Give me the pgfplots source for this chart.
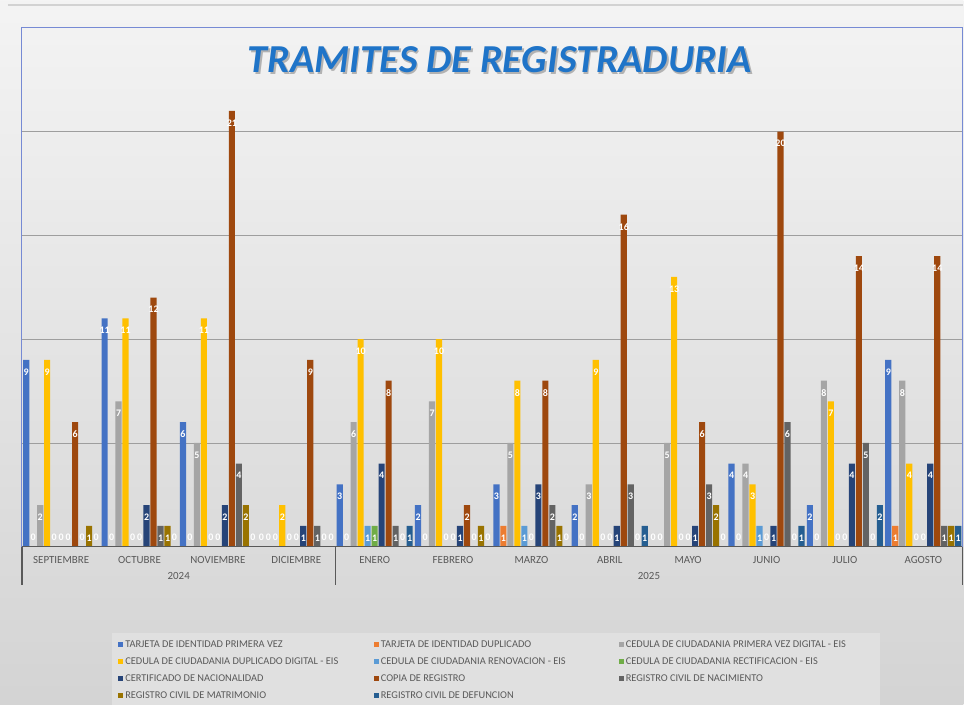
\documentclass[border=0pt]{standalone}
\usepackage{pgfplots}
\pgfplotsset{compat=1.18}
\usepackage{pgfplotstable}
\usepackage{graphicx}
\usepackage{fontspec}
\setmainfont{Carlito}

\definecolor{c1}{HTML}{4472C4}
\definecolor{c2}{HTML}{ED7D31}
\definecolor{c3}{HTML}{A5A5A5}
\definecolor{c4}{HTML}{FFC000}
\definecolor{c5}{HTML}{5B9BD5}
\definecolor{c6}{HTML}{70AD47}
\definecolor{c7}{HTML}{264478}
\definecolor{c8}{HTML}{9E480E}
\definecolor{c9}{HTML}{636363}
\definecolor{c10}{HTML}{997300}
\definecolor{c11}{HTML}{255E91}
\definecolor{txtgray}{HTML}{595959}
\definecolor{framebl}{RGB}{118,138,212}
\definecolor{titleblue}{HTML}{1F74C8}

% months: sep oct nov dic | ene feb mar abr may jun jul ago
\pgfplotstableread{
idx s1 s2 s3 s4 s5 s6 s7 s8 s9 s10 s11
0   9  0  2  9  0  0  0  6  0  1   0
1   11 0  7  11 0  0  2  12 1  1   0
2   6  0  5  11 0  0  2  21 4  2   0
3   0  0  0  2  0  0  1  9  1  0   0
4   3  0  6  10 1  1  4  8  1  0   1
5   2  0  7  10 0  0  1  2  0  1   0
6   3  1  5  8  1  0  3  8  2  1   0
7   2  0  3  9  0  0  1  16 3  0   1
8   0  0  5  13 0  0  1  6  3  2   0
9   4  0  4  3  1  0  1  20 6  0   1
10  2  0  8  7  0  0  4  14 5  0   2
11  9  1  8  4  0  0  4  14 1  1   1
}\datos

\newcommand{\titletext}{\resizebox{378pt}{19.5pt}{\bfseries\itshape TRAMITES DE REGISTRADURIA}}

\begin{document}
\begin{tikzpicture}[x=1pt,y=1pt]
% pixel (px,py) -> ((px-22)*0.75, (547-py)*0.75)
\shade[top color=gray!9, bottom color=gray!34] (-16.5,-118.5) rectangle (706.5,410.25);
\draw[gray!35, line width=0.8pt] (-10.5,406.5) -- (706.5,406.5);
\fill[gray!24] (67.5,-64.5) rectangle (643.5,-118.5);

\begin{axis}[
  at={(0,0)}, anchor=south west,
  scale only axis, width=705.75pt, height=389.25pt,
  ybar=0.65pt, bar width=4.6pt,
  xmin=-0.5, xmax=11.5, ymin=0, ymax=25,
  xtick={0,...,11},
  xticklabels={SEPTIEMBRE,OCTUBRE,NOVIEMBRE,DICIEMBRE,ENERO,FEBRERO,MARZO,ABRIL,MAYO,JUNIO,JULIO,AGOSTO},
  ytick={5,10,15,20}, yticklabels={},
  ymajorgrids, grid style={black!38, line width=0.6pt},
  major tick length=0pt,
  axis line style={draw=none},
  xticklabel style={font=\fontsize{8.2}{9}\selectfont, text=txtgray, anchor=base, yshift=-12.75pt},
  clip=false,
  /pgf/number format/assume math mode=true,
  nodes near coords,
  visualization depends on={y \as \rawy},
  every node near coord/.append style={font=\fontsize{7.5}{8}\selectfont\bfseries, text=white,
    anchor=center, inner sep=0pt, yshift={ifthenelse(\rawy>0.5,-9,6.75)}},
  cycle list={
    {fill=c1,draw=none},{fill=c2,draw=none},{fill=c3,draw=none},{fill=c4,draw=none},
    {fill=c5,draw=none},{fill=c6,draw=none},{fill=c7,draw=none},{fill=c8,draw=none},
    {fill=c9,draw=none},{fill=c10,draw=none},{fill=c11,draw=none}},
  legend image code/.code={\fill[#1] (0pt,-1.9pt) rectangle (3.8pt,1.9pt);},
  legend columns=3,
  legend cell align=left,
  legend style={at={(0.102,-0.1753)}, anchor=north west, draw=none, fill=none,
    inner sep=0pt, row sep=2.25pt,
    font=\fontsize{7.8}{9}\selectfont, text=txtgray,
    nodes={inner sep=1.5pt, text height=6pt, text depth=1.5pt}},
]
\addplot table[x=idx,y=s1]{\datos};
\addlegendentry{\makebox[185pt][l]{TARJETA DE IDENTIDAD PRIMERA VEZ}}
\addplot table[x=idx,y=s2]{\datos};
\addlegendentry{\makebox[177pt][l]{TARJETA DE IDENTIDAD DUPLICADO}}
\addplot table[x=idx,y=s3]{\datos};
\addlegendentry{CEDULA DE CIUDADANIA PRIMERA VEZ DIGITAL - EIS}
\addplot table[x=idx,y=s4]{\datos};
\addlegendentry{CEDULA DE CIUDADANIA DUPLICADO DIGITAL - EIS}
\addplot table[x=idx,y=s5]{\datos};
\addlegendentry{CEDULA DE CIUDADANIA RENOVACION - EIS}
\addplot table[x=idx,y=s6]{\datos};
\addlegendentry{CEDULA DE CIUDADANIA RECTIFICACION - EIS}
\addplot table[x=idx,y=s7]{\datos};
\addlegendentry{CERTIFICADO DE NACIONALIDAD}
\addplot table[x=idx,y=s8]{\datos};
\addlegendentry{COPIA DE REGISTRO}
\addplot table[x=idx,y=s9]{\datos};
\addlegendentry{REGISTRO CIVIL DE NACIMIENTO}
\addplot table[x=idx,y=s10]{\datos};
\addlegendentry{REGISTRO CIVIL DE MATRIMONIO}
\addplot table[x=idx,y=s11]{\datos};
\addlegendentry{REGISTRO CIVIL DE DEFUNCION}

\draw[framebl, line width=0.75pt] (rel axis cs:0,0) -- (rel axis cs:0,1) -- (rel axis cs:1,1) -- (rel axis cs:1,0);
\draw[txtgray, line width=1pt] (rel axis cs:0,0) -- (rel axis cs:1,0);
\draw[txtgray, line width=1pt] (axis cs:-0.5,0) -- ++(0pt,-28.5pt);
\draw[txtgray, line width=1pt] (axis cs:3.5,0) -- ++(0pt,-28.5pt);
\draw[txtgray, line width=1pt] (axis cs:11.5,0) -- ++(0pt,-28.5pt);
\node[anchor=base, yshift=-24.75pt, font=\fontsize{8.2}{9}\selectfont, text=txtgray] at (axis cs:1.5,0) {2024};
\node[anchor=base, yshift=-24.75pt, font=\fontsize{8.2}{9}\selectfont, text=txtgray] at (axis cs:7.5,0) {2025};
\end{axis}

\node[anchor=base, text=gray!60] at (359.7,354.3) {\titletext};
\node[anchor=base, text=titleblue] at (358.5,355.5) {\titletext};
\end{tikzpicture}
\end{document}
